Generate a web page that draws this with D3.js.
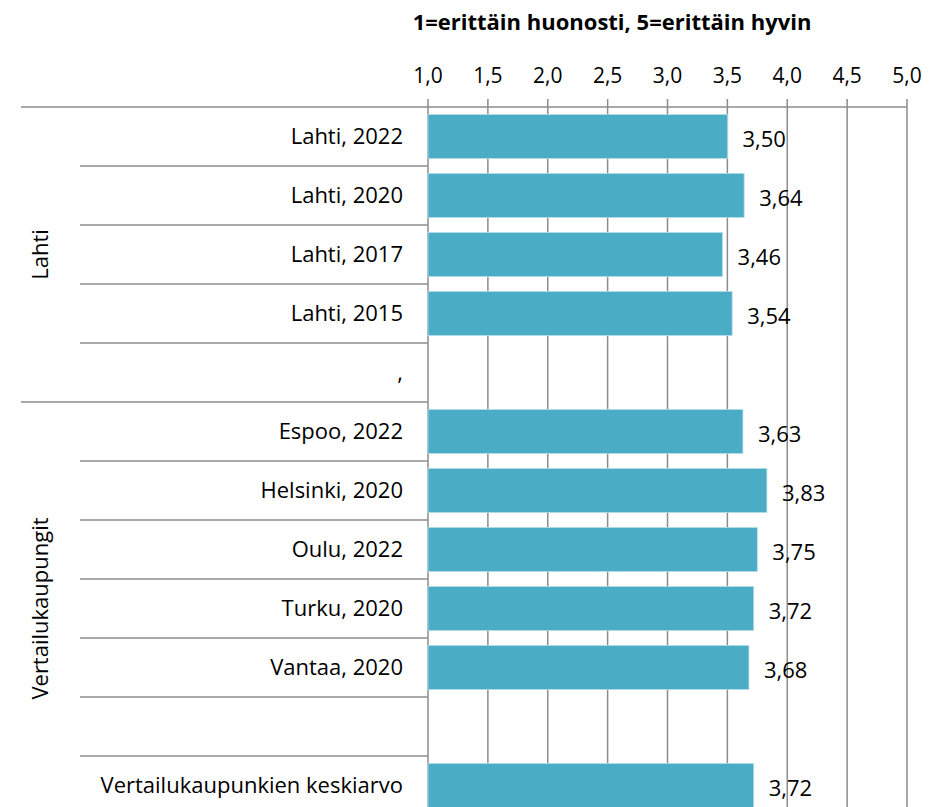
<!DOCTYPE html>
<html>
<head>
<meta charset="utf-8">
<script src="https://cdn.jsdelivr.net/npm/d3@7"></script>
<style>
  body { margin: 0; background: #fff; }
  text { font-family: "Open Sans", "Noto Sans", sans-serif; fill: #000; }
</style>
</head>
<body>
<div id="chart"></div>
<script>
// data
var categories = ["Lahti, 2022", "Lahti, 2020", "Lahti, 2017", "Lahti, 2015", ",",
                  "Espoo, 2022", "Helsinki, 2020", "Oulu, 2022", "Turku, 2020", "Vantaa, 2020", "",
                  "Vertailukaupunkien keskiarvo"];
var values = [3.50, 3.64, 3.46, 3.54, null, 3.63, 3.83, 3.75, 3.72, 3.68, null, 3.72];
var groupNames = ["Lahti", "Vertailukaupungit"];
var groupStart = [0, 5];
var groupEnd = [4, 11];
var tickValues = [1, 1.5, 2, 2.5, 3, 3.5, 4, 4.5, 5];
var title = "1=erittäin huonosti, 5=erittäin hyvin";

var width = 946, height = 807;
var plotLeft = 428, plotRight = 907, plotTop = 107, plotBottom = 815;
var lineColor = "#8c8c8c";
var fontSize = "22px";
var fmt = function (v) { return d3.format(".2f")(v).replace(".", ","); };

var svg = d3.select("#chart").append("svg")
    .attr("width", width)
    .attr("height", height);

var x = d3.scaleLinear().domain([1, 5]).range([plotLeft, plotRight]);
// blank rows need unique keys for the band scale
var keys = categories.map(function (c, i) { return i; });
var y = d3.scaleBand().domain(keys).range([plotTop, plotBottom])
    .paddingInner(0.25).paddingOuter(0.125);
var step = y.step();
var rowTop = function (i) { return y(i) - step * 0.125; };

// title
svg.append("text")
    .attr("x", 612).attr("y", 30)
    .attr("text-anchor", "middle")
    .style("font-weight", "bold")
    .style("font-size", "22px")
    .text(title);

// category labels (under the grid)
svg.append("g").selectAll("text")
  .data(categories)
  .enter().append("text")
    .attr("x", 403)
    .attr("y", function (d, i) { return y(i) + y.bandwidth() / 2; })
    .attr("dy", "0.35em")
    .attr("text-anchor", "end")
    .style("font-size", fontSize)
    .text(function (d) { return d; });

// group labels
svg.append("g").selectAll("text")
  .data(groupNames)
  .enter().append("text")
    .attr("transform", function (d, i) {
      var y0 = rowTop(groupStart[i]);
      var y1 = rowTop(groupEnd[i]) + step;
      return "translate(40," + ((y0 + y1) / 2) + ") rotate(-90)";
    })
    .attr("dy", "0.35em")
    .attr("text-anchor", "middle")
    .style("font-size", fontSize)
    .text(function (d) { return d; });

// vertical grid + top ticks
svg.append("g").selectAll("line")
  .data(tickValues)
  .enter().append("line")
    .attr("x1", function (d) { return x(d); })
    .attr("x2", function (d) { return x(d); })
    .attr("y1", plotTop - 8).attr("y2", plotBottom)
    .attr("stroke", lineColor).attr("stroke-width", 1.5);

// tick labels
svg.append("g").selectAll("text")
  .data(tickValues)
  .enter().append("text")
    .attr("x", function (d) { return x(d); })
    .attr("y", 83)
    .attr("text-anchor", "middle")
    .style("font-size", "21px")
    .text(function (d) { return d3.format(".1f")(d).replace(".", ","); });

// row separators
svg.append("g").selectAll("line")
  .data(keys.slice(1))
  .enter().append("line")
    .attr("x1", function (i) { return groupStart.indexOf(i) >= 0 ? 21 : 80; })
    .attr("x2", plotLeft)
    .attr("y1", function (i) { return rowTop(i); })
    .attr("y2", function (i) { return rowTop(i); })
    .attr("stroke", lineColor).attr("stroke-width", 1.5);

// top axis line
svg.append("line")
    .attr("x1", 21).attr("x2", plotRight)
    .attr("y1", plotTop).attr("y2", plotTop)
    .attr("stroke", lineColor).attr("stroke-width", 1.5);

// bars
var rows = keys.map(function (i) { return {i: i, value: values[i]}; })
    .filter(function (d) { return d.value != null; });

svg.append("g").selectAll("rect")
  .data(rows)
  .enter().append("rect")
    .attr("x", x(1))
    .attr("y", function (d) { return y(d.i); })
    .attr("width", function (d) { return x(d.value) - x(1); })
    .attr("height", y.bandwidth())
    .attr("fill", "#4bacc6")
    .attr("stroke", "#b9dfea").attr("stroke-width", 0.8);

// value labels
svg.append("g").selectAll("text")
  .data(rows)
  .enter().append("text")
    .attr("x", function (d) { return x(d.value) + 15; })
    .attr("y", function (d) { return y(d.i) + y.bandwidth() / 2 + 3; })
    .attr("dy", "0.35em")
    .style("font-size", fontSize)
    .text(function (d) { return fmt(d.value); });
</script>
</body>
</html>
